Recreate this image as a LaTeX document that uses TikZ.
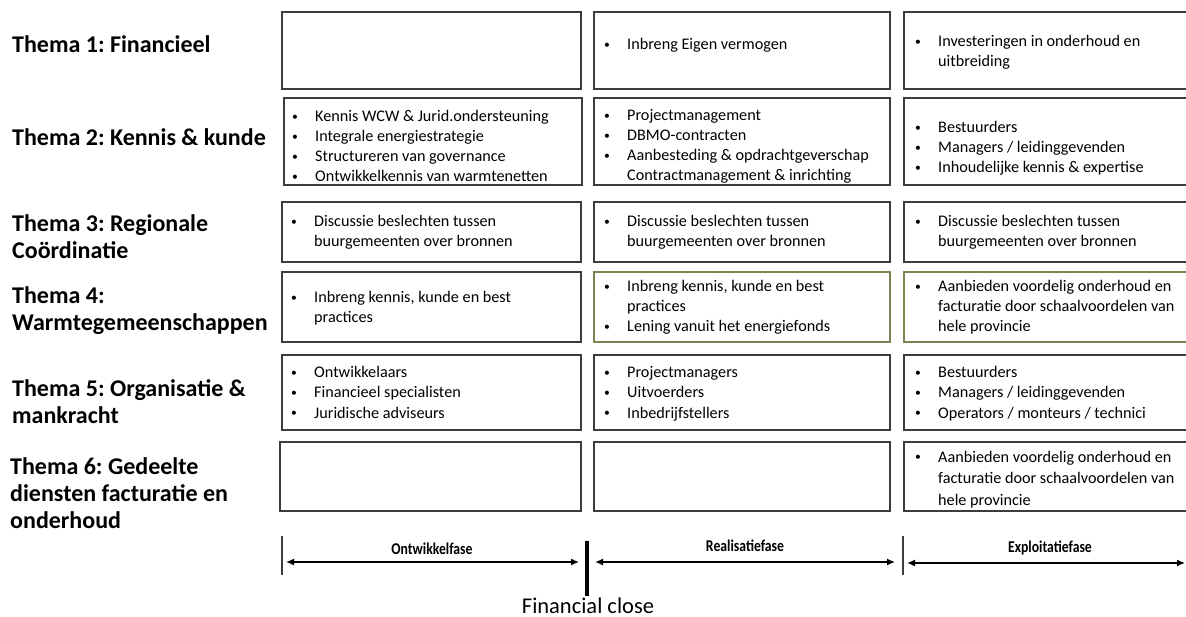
\documentclass[tikz,border=0pt]{standalone}
\usepackage{fontspec}
\usepackage{graphicx}
\setmainfont{Carlito}
\frenchspacing
\usetikzlibrary{arrows.meta}

\definecolor{boxgray}{RGB}{60,60,60}
\definecolor{boxolive}{RGB}{125,130,80}

% bullet item and continuation line inside a cell
\newcommand\bul{\makebox[24pt][l]{\hspace*{1pt}\raisebox{0.2ex}{\scalebox{0.72}{\textbullet}}}}
\newcommand\ind{\hspace*{24pt}}
\newcommand\cell[1]{\begin{tabular}[t]{@{}l@{}}#1\end{tabular}}

\tikzset{
  cellbox/.style={draw=boxgray, line width=1.6pt, rectangle, inner sep=0pt},
  oliveedge/.style={draw=boxolive},
  celltext/.style={inner sep=0pt, anchor=base west, font=\fontsize{16.2}{20}\selectfont},
  theme/.style={inner sep=0pt, anchor=base west, align=left,
    font=\fontsize{24}{27}\selectfont\bfseries},
  tick/.style={draw=boxgray, line width=1.4pt},
  closetick/.style={draw=black, line width=3.2pt},
  phase/.style={draw=black, line width=1.4pt, {Latex[length=8pt,width=7pt]}-{Latex[length=8pt,width=7pt]}},
  phaselabel/.style={inner sep=0pt, font=\fontsize{16.5}{18}\selectfont\bfseries, xscale=0.83},
}

\begin{document}
\begin{tikzpicture}[x=1pt, y=-1pt]
\useasboundingbox (0,0) rectangle (1186,617);
\clip (0,0) rectangle (1186,617);
\fill[white] (0,0) rectangle (1186,617);

% ---- theme labels ----
\node[theme] (th1) at (12,53) {Thema 1: Financieel};
\node[theme] (th2) at (12,146) {Thema 2: Kennis \& kunde};
\node[theme] (th3) at (12,232) {\cell{Thema 3: Regionale\\Coördinatie}};
\node[theme] (th4) at (12,304) {\cell{Thema 4:\\Warmtegemeenschappen}};
\node[theme] (th5) at (12,396) {\cell{Thema 5: Organisatie \&\\mankracht}};
\node[theme] (th6) at (10,474) {\cell{Thema 6: Gedeelte\\diensten facturatie en\\onderhoud}};

% ---- grid of cells: columns (ontwikkel / realisatie / exploitatie) ----
% row 1
\node[cellbox, minimum width=299pt, minimum height=77pt] (b11) at (431.5,50.5) {};
\node[cellbox, minimum width=296pt, minimum height=77pt] (b12) at (742,50.5) {};
\node[cellbox, minimum width=292pt, minimum height=77pt] (b13) at (1050,50.5) {};
% row 2
\node[cellbox, minimum width=298pt, minimum height=87pt] (b21) at (433,141.5) {};
\node[cellbox, minimum width=296pt, minimum height=87pt] (b22) at (742,141.5) {};
\node[cellbox, minimum width=292pt, minimum height=87pt] (b23) at (1050,141.5) {};
% row 3
\node[cellbox, minimum width=299pt, minimum height=60pt] (b31) at (431.5,232) {};
\node[cellbox, minimum width=296pt, minimum height=60pt] (b32) at (742,232) {};
\node[cellbox, minimum width=292pt, minimum height=60pt] (b33) at (1050,232) {};
% row 4
\node[cellbox, minimum width=299pt, minimum height=70pt] (b41) at (431.5,307) {};
\node[cellbox, oliveedge, minimum width=296pt, minimum height=70pt] (b42) at (742,307) {};
\node[cellbox, oliveedge, minimum width=292pt, minimum height=70pt] (b43) at (1050,307) {};
% row 5
\node[cellbox, minimum width=299pt, minimum height=75pt] (b51) at (431.5,392.5) {};
\node[cellbox, minimum width=296pt, minimum height=75pt] (b52) at (742,392.5) {};
\node[cellbox, minimum width=292pt, minimum height=75pt] (b53) at (1050,392.5) {};
% row 6
\node[cellbox, minimum width=301pt, minimum height=69pt] (b61) at (430.5,476.5) {};
\node[cellbox, minimum width=296pt, minimum height=69pt] (b62) at (742,476.5) {};
\node[cellbox, minimum width=292pt, minimum height=69pt] (b63) at (1050,476.5) {};

% ---- cell texts ----
\node[celltext] (t12) at (603,50) {\cell{\bul Inbreng Eigen vermogen}};
\node[celltext] (t13) at (914,47) {\cell{\bul Investeringen in onderhoud en\\\ind uitbreiding}};

\node[celltext] (t21) at (291,122) {\cell{\bul Kennis WCW \& Jurid.ondersteuning\\\bul Integrale energiestrategie\\\bul Structureren van governance\\\bul Ontwikkelkennis van warmtenetten}};
\node[celltext] (t22) at (603,121) {\cell{\bul Projectmanagement\\\bul DBMO-contracten\\\bul Aanbesteding \& opdrachtgeverschap\\\ind Contractmanagement \& inrichting}};
\node[celltext] (t23) at (914,133) {\cell{\bul Bestuurders\\\bul Managers / leidinggevenden\\\bul Inhoudelijke kennis \& expertise}};

\node[celltext] (t31) at (290,227) {\cell{\bul Discussie beslechten tussen\\\ind buurgemeenten over bronnen}};
\node[celltext] (t32) at (603,227) {\cell{\bul Discussie beslechten tussen\\\ind buurgemeenten over bronnen}};
\node[celltext] (t33) at (914,227) {\cell{\bul Discussie beslechten tussen\\\ind buurgemeenten over bronnen}};

\node[celltext] (t41) at (290,303) {\cell{\bul Inbreng kennis, kunde en best\\\ind practices}};
\node[celltext] (t42) at (603,292) {\cell{\bul Inbreng kennis, kunde en best\\\ind practices\\\bul Lening vanuit het energiefonds}};
\node[celltext] (t43) at (914,292) {\cell{\bul Aanbieden voordelig onderhoud en\\\ind facturatie door schaalvoordelen van\\\ind hele provincie}};

\node[celltext] (t51) at (290,378) {\cell{\bul Ontwikkelaars\\\bul Financieel specialisten\\\bul Juridische adviseurs}};
\node[celltext] (t52) at (603,378) {\cell{\bul Projectmanagers\\\bul Uitvoerders\\\bul Inbedrijfstellers}};
\node[celltext] (t53) at (914,378) {\cell{\bul Bestuurders\\\bul Managers / leidinggevenden\\\bul Operators / monteurs / technici}};

\node[celltext, font=\fontsize{16.2}{21.5}\selectfont] (t63) at (914,462) {\cell{\bul Aanbieden voordelig onderhoud en\\\ind facturatie door schaalvoordelen van\\\ind hele provincie}};

% ---- phase timeline ----
\coordinate (k1t) at (282,536); \coordinate (k1b) at (282,575);
\coordinate (k2t) at (587,541); \coordinate (k2b) at (587,596);
\coordinate (k3t) at (903,536); \coordinate (k3b) at (903,575);
\draw[tick] (k1t) -- (k1b);
\draw[closetick] (k2t) -- (k2b);
\draw[tick] (k3t) -- (k3b);

\coordinate (a1s) at (286,562); \coordinate (a1e) at (579,562);
\coordinate (a2s) at (595,562); \coordinate (a2e) at (895,562);
\coordinate (a3s) at (907,563); \coordinate (a3e) at (1185,563);
\draw[phase] (a1s) -- (a1e);
\draw[phase] (a2s) -- (a2e);
\draw[phase] (a3s) -- (a3e);

\node[phaselabel] (p1) at (432,549) {Ontwikkelfase};
\node[phaselabel] (p2) at (745,546) {Realisatiefase};
\node[phaselabel] (p3) at (1050,548) {Exploitatiefase};

\node[inner sep=0pt, font=\fontsize{22.5}{26}\selectfont] (fc) at (588,606) {Financial close};
\end{tikzpicture}
\end{document}
